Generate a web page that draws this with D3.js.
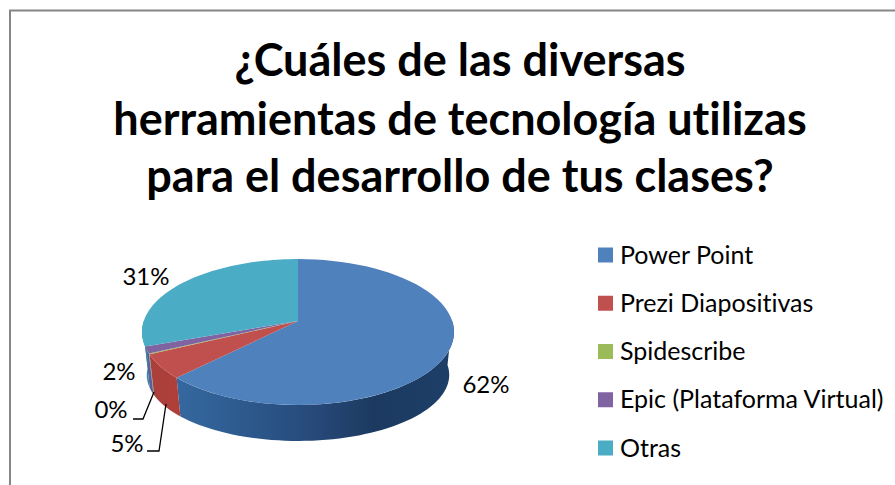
<!DOCTYPE html>
<html>
<head>
<meta charset="utf-8">
<script src="https://cdn.jsdelivr.net/npm/d3@7"></script>
<style>
html, body { margin: 0; padding: 0; background: #fff; }
text { font-family: Lato, "Open Sans", sans-serif; fill: #000; font-variant-ligatures: none; }
</style>
</head>
<body>
<div id="chart"></div>
<script>
const titleLines = ["¿Cuáles de las diversas", "herramientas de tecnología utilizas", "para el desarrollo de tus clases?"];
const categories = ["Power Point", "Prezi Diapositivas", "Spidescribe", "Epic (Plataforma Virtual)", "Otras"];
const values = [62.4, 5.4, 0.2, 1.5, 30.5];
const colors = ["#4f81bd", "#c0504d", "#9bbb59", "#8064a2", "#4bacc6"];

const width = 895, height = 485;
const svg = d3.select("#chart").append("svg")
    .attr("width", width)
    .attr("height", height)
    .style("display", "block");

// chart frame, its right and bottom edges are cropped off in the picture
svg.append("path")
    .attr("d", "M10,485V10.5H895")
    .attr("fill", "none")
    .attr("stroke", "#868686")
    .attr("stroke-width", 2);

svg.append("g").selectAll("text")
    .data(titleLines)
    .join("text")
    .attr("x", 460)
    .attr("y", (d, i) => [76, 135, 192][i])
    .attr("text-anchor", "middle")
    .attr("font-size", 45)
    .attr("font-weight", 700)
    .text(d => d);

// pie seen in perspective: the unit circle goes through a projection so the
// apex sits above the middle of the ellipse. The lower rim is a smaller circle.
const cx = 298, persp = 0.1507;
const topRim = { cy: 321, rx: 154.2, ry: 71.3 };
const lowRim = { cy: 365, rx: 149.5, ry: 64.5 };
const project = (a, rim) => {
    const u = Math.sin(a), v = -Math.cos(a), w = 1 - persp * v;
    return [cx + rim.rx * u / w, rim.cy + rim.ry * v / w];
};

const pie = d3.pie().value(d => d).sort(null);
const arcs = pie(values);
const line = d3.line();

const arcPoints = (a0, a1, rim) => d3.range(0, 61).map(i => project(a0 + (a1 - a0) * i / 60, rim));

const defs = svg.append("defs");
const wallGradient = (id, stops) => {
    const g = defs.append("linearGradient")
        .attr("id", id)
        .attr("gradientUnits", "userSpaceOnUse")
        .attr("x1", cx - topRim.rx).attr("x2", cx + topRim.rx)
        .attr("y1", 0).attr("y2", 0);
    stops.forEach(s => g.append("stop").attr("offset", s[0]).attr("stop-color", s[1]));
};
wallGradient("wall0", [[0, "#3a6fa8"], [0.25, "#2f5f94"], [0.55, "#27497a"], [0.75, "#1c3a60"], [1, "#1d3f68"]]);
wallGradient("wall1", [[0, "#a8403c"], [0.2, "#b53d36"]]);
wallGradient("wall2", [[0, "#76913f"], [1, "#76913f"]]);
wallGradient("wall3", [[0, "#5a5f9c"], [1, "#5a5f9c"]]);
wallGradient("wall4", [[0, "#3a86a6"], [1, "#3a86a6"]]);

// outer walls, only the part of each slice facing the viewer
const walls = svg.append("g");
arcs.forEach((d, i) => {
    const a0 = Math.max(d.startAngle, Math.PI / 2), a1 = Math.min(d.endAngle, Math.PI * 3 / 2);
    if (a1 <= a0) return;
    const upper = arcPoints(a0, a1, topRim);
    const lower = arcPoints(a0, a1, lowRim).reverse();
    walls.append("path")
        .attr("d", line(upper.concat(lower)) + "Z")
        .attr("fill", `url(#wall${i})`);
});

// top face
svg.append("g").selectAll("path")
    .data(arcs)
    .join("path")
    .attr("d", d => line([[cx, topRim.cy]].concat(arcPoints(d.startAngle, d.endAngle, topRim))) + "Z")
    .attr("fill", (d, i) => colors[i]);

// percent labels
const labelPos = [[486, 393], [127, 452], [111, 418], [119, 380], [146, 285]];
svg.append("g").selectAll("text")
    .data(arcs)
    .join("text")
    .attr("x", (d, i) => labelPos[i][0])
    .attr("y", (d, i) => labelPos[i][1])
    .attr("text-anchor", "middle")
    .attr("font-size", 24)
    .text(d => Math.round(d.value) + "%");

// leader lines for the two thin slices
const leaders = [
    [[133, 419], [143, 419], [154, 392]],
    [[147, 451], [159, 451], [166, 404]]
];
svg.append("g").selectAll("path")
    .data(leaders)
    .join("path")
    .attr("d", d => line(d))
    .attr("fill", "none")
    .attr("stroke", "#000")
    .attr("stroke-width", 1.3);

// legend
const legendY = d3.scalePoint().domain(categories).range([255, 448]);
const legend = svg.append("g").selectAll("g")
    .data(categories)
    .join("g")
    .attr("transform", d => `translate(598,${legendY(d)})`);
legend.append("rect")
    .attr("y", -7.5)
    .attr("width", 15)
    .attr("height", 15)
    .attr("fill", (d, i) => colors[i]);
legend.append("text")
    .attr("x", 22)
    .attr("y", 8.5)
    .attr("font-size", 25)
    .text(d => d);
</script>
</body>
</html>
